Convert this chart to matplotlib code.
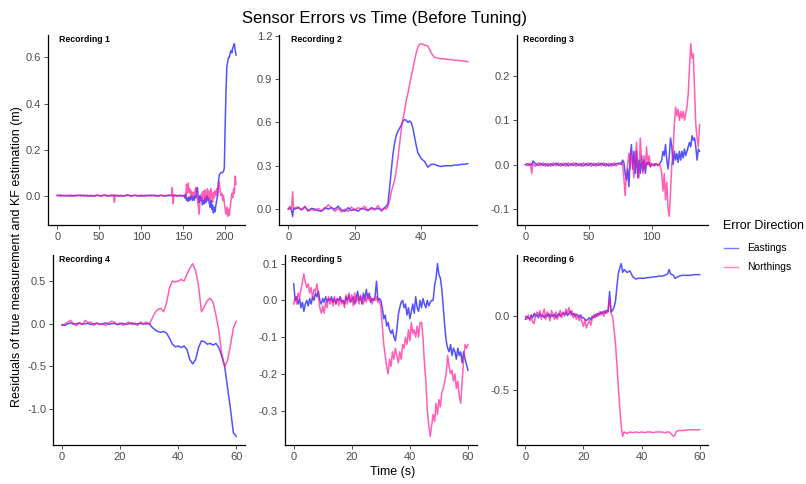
import numpy as np
import matplotlib
matplotlib.use("Agg")
import matplotlib.pyplot as plt
from matplotlib.lines import Line2D

plt.rcParams["font.family"] = ["Liberation Sans", "DejaVu Sans"]
plt.rcParams["axes.unicode_minus"] = False

# ---------------------------------------------------------------- data
# Recording 1
rec1_t = ([0, 4, 8, 12, 16, 20, 24, 28, 32, 36, 40, 44, 48, 52, 56, 60, 64,
           67, 68, 69,
           72, 76, 80, 84, 88, 92, 96, 100, 104, 108, 112, 116, 120, 124, 128, 132,
           136, 137, 138, 139, 142, 146, 150]
          + list(range(151, 214)))
rec1_east = [0.0, 0.002, -0.001, 0.001, -0.002, 0.001, 0.0, 0.002, -0.001, 0.001,
             -0.002, 0.0, 0.001, -0.001, 0.002, 0.0, -0.001,
             0.0, 0.001, 0.0,
             0.001, -0.002, 0.0, 0.002, -0.001, 0.001, 0.0, -0.002, 0.001, 0.0,
             0.002, -0.001, 0.0, 0.001, -0.002, 0.0,
             0.001, 0.0, -0.002, 0.001, 0.0, -0.001, 0.0,
             0.0, -0.01, 0.005, -0.02, -0.01, -0.025, -0.005, -0.02, -0.01, 0.0,
             -0.02, -0.005, -0.02, 0.0, -0.01, 0.03, 0.035, -0.01, -0.03, 0.0,
             -0.02, -0.01, -0.04, -0.02, -0.035, -0.01, -0.03, 0.0, -0.02, -0.01,
             -0.03, -0.05, -0.02, -0.06, -0.04, -0.075, -0.05, -0.07, -0.04, -0.02,
             0.0, 0.06, 0.09, 0.095, 0.1, 0.1, 0.1, 0.105, 0.12, 0.3,
             0.45, 0.56, 0.58, 0.6, 0.6, 0.62, 0.63, 0.62, 0.64, 0.65,
             0.66, 0.63, 0.61]
rec1_north = [0.003, -0.003, 0.002, -0.002, 0.003, -0.003, 0.002, -0.002, 0.003, -0.003,
              0.002, -0.003, 0.003, -0.002, 0.002, -0.003, 0.003,
              0.002, -0.03, 0.003,
              -0.003, 0.002, -0.002, 0.003, -0.003, 0.002, -0.002, 0.003, -0.003, 0.002,
              -0.002, 0.003, -0.003, 0.002, -0.002, 0.003,
              0.0, 0.035, -0.035, 0.005, -0.003, 0.003, -0.002,
              0.0, 0.005, -0.005, 0.05, 0.01, 0.055, 0.015, 0.03, -0.01, 0.02,
              -0.005, 0.015, 0.0, 0.02, 0.035, 0.005, -0.02, -0.045, -0.08, -0.03,
              -0.01, 0.01, -0.02, 0.02, -0.01, 0.025, -0.02, 0.01, 0.03, -0.01,
              0.02, -0.02, 0.03, 0.0, -0.03, 0.015, -0.01, 0.02, 0.0, 0.03,
              0.01, 0.04, 0.06, 0.02, 0.0, 0.01, -0.02, 0.0, -0.03, -0.06,
              -0.08, -0.05, -0.09, -0.06, -0.085, -0.05, -0.02, 0.01, -0.01, 0.03,
              0.01, 0.085, 0.05]

# Recording 2
rec2_t = ([0, 0.5, 1, 1.3, 1.6] + list(range(2, 30))
          + list(np.arange(29.5, 39.6, 0.5)) + list(range(40, 55)))
rec2_east = [0.0, 0.01, -0.01, -0.05, 0.005,
             0.0, 0.01, -0.005, 0.015, -0.01, 0.005, 0.0, -0.01, -0.015, 0.01,
             0.0, 0.01, 0.0, 0.02, -0.005, -0.015, 0.01, -0.01, 0.0, -0.015,
             0.005, 0.0, -0.01, 0.01, 0.0, 0.005, -0.005, 0.01,
             0.02, 0.04, 0.15, 0.27, 0.38, 0.46, 0.51, 0.54, 0.56, 0.58,
             0.61, 0.62, 0.615, 0.6, 0.61, 0.6, 0.56, 0.5, 0.44, 0.39, 0.37,
             0.35, 0.33, 0.29, 0.31, 0.31, 0.3, 0.295, 0.3, 0.3, 0.3,
             0.305, 0.305, 0.31, 0.31, 0.315]
rec2_north = [0.0, 0.02, 0.0, 0.12, 0.0,
              0.01, 0.015, -0.005, 0.02, -0.015, 0.0, -0.01, 0.005, -0.01, 0.0,
              0.03, 0.01, -0.015, 0.005, -0.02, 0.0, -0.015, 0.015, -0.01, 0.01,
              0.0, 0.02, -0.01, 0.005, -0.005, 0.025, -0.015, 0.005,
              0.0, 0.02, 0.06, 0.12, 0.16, 0.2, 0.27, 0.35, 0.45, 0.55,
              0.62, 0.68, 0.75, 0.8, 0.86, 0.92, 0.97, 1.03, 1.08, 1.12, 1.14,
              1.145, 1.135, 1.13, 1.08, 1.05, 1.045, 1.04, 1.04, 1.035, 1.035,
              1.03, 1.03, 1.025, 1.025, 1.02]

# Recording 3
rec3_t = [0, 2, 4, 5, 6] + list(range(8, 75, 2)) + list(range(76, 139))
rec3_east = [0.0, 0.002, -0.002, 0.0, 0.008,
             0.002, -0.002, 0.003, -0.002, 0.002, -0.003, 0.002, -0.002, 0.003, -0.002,
             0.002, -0.002, 0.003, -0.003, 0.002, -0.002, 0.003, -0.002, 0.002, -0.003,
             0.002, -0.002, 0.003, -0.002, 0.002, -0.002, 0.003, -0.002, 0.002, -0.003,
             0.002, -0.002, 0.002, 0.003,
             0.0, 0.01, 0.005, -0.02, -0.035, -0.01, -0.05, 0.02, 0.045, -0.01,
             0.03, -0.02, 0.03, -0.03, 0.01, -0.02, 0.02, -0.015, 0.01, -0.02,
             0.005, 0.0, 0.005, -0.005, 0.0, 0.0, -0.003, 0.002, 0.0, -0.002,
             0.0, 0.005, 0.01, 0.03, 0.02, 0.045, 0.01, -0.01, 0.02, 0.06,
             0.04, 0.0, 0.03, 0.01, 0.025, 0.005, 0.03, 0.01, 0.03, 0.015,
             0.035, 0.02, 0.03, 0.04, 0.05, 0.04, 0.065, 0.055, 0.06, 0.04,
             0.01, 0.035, 0.03]
rec3_north = [0.0, -0.003, 0.003, -0.02, 0.002,
              -0.004, 0.004, -0.003, 0.004, -0.004, 0.003, -0.004, 0.004, -0.003, 0.004,
              -0.004, 0.003, -0.004, 0.004, -0.003, 0.004, -0.004, 0.003, -0.004, 0.004,
              -0.003, 0.004, -0.004, 0.003, -0.004, 0.004, -0.003, 0.004, -0.004, 0.003,
              -0.004, 0.004, -0.003, 0.002,
              0.005, 0.0, -0.03, -0.07, -0.02, 0.0, 0.025, -0.01, 0.03, 0.0,
              -0.03, 0.01, 0.05, 0.0, -0.03, 0.06, 0.01, -0.02, 0.02, -0.01,
              0.04, 0.0, 0.02, -0.005, 0.003, -0.002, 0.002, -0.002, 0.002, -0.002,
              0.001, -0.005, -0.02, -0.06, -0.02, -0.08, -0.04, -0.1, -0.117, -0.06,
              0.0, 0.03, 0.09, 0.13, 0.11, 0.125, 0.1, 0.12, 0.105, 0.12,
              0.1, 0.115, 0.13, 0.16, 0.22, 0.273, 0.24, 0.25, 0.17, 0.09,
              0.06, 0.04, 0.09]

# Recording 4
rec4_t = list(range(0, 61))
rec4_east = [-0.01, -0.02, 0.0, 0.01, -0.005, 0.0, 0.01, -0.005, 0.0, 0.005,
             -0.01, 0.0, 0.005, -0.005, 0.0, 0.01, -0.005, 0.0, 0.005, -0.01,
             0.0, 0.005, -0.005, 0.0, 0.01, -0.005, 0.0, 0.005, -0.005, 0.0,
             0.005, -0.04, -0.07, -0.09, -0.1, -0.09, -0.11, -0.17, -0.24, -0.27,
             -0.26, -0.28, -0.26, -0.3, -0.42, -0.47, -0.42, -0.28, -0.2, -0.21,
             -0.24, -0.23, -0.25, -0.23, -0.28, -0.38, -0.5, -0.75, -1.0, -1.28,
             -1.32]
rec4_north = [-0.02, 0.0, 0.02, 0.04, 0.0, -0.02, 0.01, -0.01, 0.04, 0.01,
              0.02, -0.02, 0.01, -0.01, 0.0, -0.02, 0.01, 0.03, 0.02, -0.01,
              0.01, -0.02, 0.0, 0.02, -0.01, 0.01, -0.02, 0.02, 0.0, 0.02,
              -0.01, 0.06, 0.13, 0.17, 0.18, 0.14, 0.25, 0.42, 0.5, 0.49,
              0.5, 0.52, 0.5, 0.58, 0.65, 0.705, 0.62, 0.45, 0.14, 0.2,
              0.27, 0.3, 0.25, 0.1, -0.08, -0.35, -0.5, -0.43, -0.25, -0.05,
              0.03]

# Recording 5 (sampled every 0.5 s)
rec5_t = np.arange(0, 60.01, 0.5)
rec5_east = [0.045, 0.0, 0.01, -0.01, 0.005, -0.02, -0.005, -0.03, -0.01, 0.0,
             -0.015, 0.005, -0.01, 0.01, 0.0, 0.02, 0.01, 0.025, 0.0, -0.01,
             0.005, -0.005, 0.01, -0.005, 0.005, 0.0, 0.01, -0.005, 0.005, -0.01,
             0.005, 0.0, 0.01, -0.005, 0.0, -0.01, 0.01, 0.0, 0.015, -0.005,
             0.0, 0.01, -0.01, 0.005, 0.025, 0.0, 0.01, -0.01, 0.02, 0.0,
             0.03, 0.005, 0.02, -0.005, 0.005, 0.0, 0.01, 0.052, 0.0, 0.005,
             0.0, -0.02, -0.05, -0.04, -0.07, -0.06, -0.08, -0.09, -0.08, -0.1,
             -0.11, -0.08, -0.04, -0.02, -0.005, 0.0, -0.02, -0.01, -0.04, -0.02,
             -0.05, -0.03, -0.01, -0.035, 0.01, -0.02, -0.03, 0.0, -0.02, 0.005,
             -0.01, -0.02, 0.0, -0.015, -0.005, 0.0, 0.0, 0.04, 0.06, 0.1,
             0.07, 0.06, 0.03, -0.02, -0.07, -0.11, -0.13, -0.14, -0.12, -0.15,
             -0.13, -0.14, -0.16, -0.13, -0.15, -0.14, -0.17, -0.14, -0.16, -0.175,
             -0.19]
rec5_north = [-0.01, 0.01, -0.01, 0.02, 0.005, 0.03, 0.05, 0.072, 0.05, 0.035,
              0.045, 0.02, 0.035, 0.005, 0.03, 0.025, 0.045, 0.01, -0.02, -0.035,
              -0.015, -0.035, -0.005, -0.02, 0.01, -0.01, 0.005, -0.015, 0.01, -0.01,
              0.005, -0.015, 0.01, -0.01, 0.0, -0.02, 0.015, -0.01, 0.02, -0.005,
              0.015, -0.015, 0.02, -0.005, 0.01, -0.01, 0.015, 0.0, -0.01, 0.01,
              -0.005, 0.015, 0.0, 0.01, -0.01, 0.005, 0.0, 0.01, -0.005, 0.0,
              -0.02, -0.07, -0.12, -0.15, -0.18, -0.2, -0.16, -0.18, -0.14, -0.16,
              -0.13, -0.15, -0.17, -0.14, -0.16, -0.12, -0.13, -0.1, -0.12, -0.08,
              -0.11, -0.06, -0.09, -0.08, -0.1, -0.07, -0.1, -0.06, -0.06, -0.1,
              -0.17, -0.22, -0.3, -0.34, -0.37, -0.34, -0.31, -0.33, -0.28, -0.31,
              -0.27, -0.29, -0.25, -0.24, -0.22, -0.2, -0.15, -0.18, -0.2, -0.19,
              -0.22, -0.2, -0.24, -0.22, -0.26, -0.28, -0.22, -0.16, -0.12, -0.13,
              -0.12]

# Recording 6
rec6_t = (list(np.arange(0, 30.01, 0.5)) + list(np.arange(30.5, 34.01, 0.5))
          + list(range(35, 50)) + [49.5, 50, 51, 51.5] + list(range(52, 61)))
rec6_east = [-0.02, 0.0, -0.01, -0.02, 0.01, -0.01, 0.02, 0.0, 0.01, -0.01,
             0.02, 0.0, 0.01, -0.01, 0.01, 0.0, 0.02, -0.005, 0.01, 0.0,
             0.015, -0.01, 0.005, 0.02, 0.0, 0.015, 0.025, 0.01, 0.03, 0.005,
             0.02, 0.035, 0.01, 0.02, 0.0, 0.015, 0.005, -0.005, 0.01, -0.01,
             -0.01, -0.02, -0.03, -0.02, -0.01, -0.025, 0.0, -0.01, 0.01, 0.0,
             0.02, 0.01, 0.03, 0.02, 0.035, 0.02, 0.04, 0.03, 0.17, 0.03,
             0.04,
             0.06, 0.1, 0.2, 0.29, 0.33, 0.36, 0.3, 0.32,
             0.3, 0.31, 0.27, 0.255, 0.26, 0.26, 0.26, 0.265, 0.265, 0.27,
             0.27, 0.275, 0.275, 0.28, 0.29,
             0.32, 0.29, 0.28, 0.26,
             0.265, 0.275, 0.28, 0.28, 0.28, 0.28, 0.285, 0.285, 0.285]
rec6_north = [0.0, -0.02, 0.01, -0.03, 0.0, -0.04, -0.05, 0.01, 0.03, 0.0,
              0.04, -0.02, 0.02, 0.05, -0.02, 0.03, 0.0, -0.03, 0.04, 0.01,
              -0.02, 0.03, -0.02, 0.01, 0.04, -0.01, 0.03, 0.0, 0.05, 0.02,
              0.06, 0.01, 0.04, -0.01, 0.02, -0.02, 0.01, -0.03, 0.0, -0.04,
              -0.07, -0.02, -0.08, -0.05, -0.03, -0.06, -0.02, 0.01, -0.01, 0.02,
              0.0, 0.03, 0.01, 0.03, 0.0, 0.04, 0.02, 0.05, 0.12, 0.02,
              0.0,
              -0.08, -0.18, -0.32, -0.48, -0.62, -0.75, -0.82, -0.79,
              -0.8, -0.79, -0.795, -0.79, -0.795, -0.79, -0.795, -0.79, -0.79, -0.795,
              -0.79, -0.79, -0.79, -0.795, -0.79,
              -0.79, -0.8, -0.82, -0.81,
              -0.785, -0.78, -0.78, -0.78, -0.775, -0.775, -0.775, -0.775, -0.775]

recording_names = ["Recording 1", "Recording 2", "Recording 3",
                   "Recording 4", "Recording 5", "Recording 6"]
x_ticks = [[0, 50, 100, 150, 200], [0, 20, 40], [0, 50, 100],
           [0, 20, 40, 60], [0, 20, 40, 60], [0, 20, 40, 60]]
y_ticks = [[0.0, 0.2, 0.4, 0.6], [0.0, 0.3, 0.6, 0.9, 1.2], [-0.1, 0.0, 0.1, 0.2],
           [-1.0, -0.5, 0.0, 0.5], [-0.3, -0.2, -0.1, 0.0, 0.1], [-0.5, 0.0]]
series_labels = ["Eastings", "Northings"]

# ---------------------------------------------------------------- styling
EAST_COLOR = "#0000FF"
NORTH_COLOR = "#FF1493"
LINE_ALPHA = 0.68
W, H = 806, 484

fig = plt.figure(figsize=(W / 100, H / 100), dpi=100)


def px_rect(left, top, right, bottom):
    return [left / W, 1 - bottom / H, (right - left) / W, (bottom - top) / H]


# panel boxes in pixels (left, top, right, bottom)
boxes = [(48.3, 35, 245, 225), (279.3, 35, 476.7, 225), (516.7, 35, 708.3, 225),
         (53.3, 255, 245, 445), (285, 255, 476.7, 445), (516.7, 255, 708.3, 445)]
strip_x = [59, 290.7, 522.7, 59, 290.7, 522.7]

data = [(rec1_t, rec1_east, rec1_north), (rec2_t, rec2_east, rec2_north),
        (rec3_t, rec3_east, rec3_north), (rec4_t, rec4_east, rec4_north),
        (rec5_t, rec5_east, rec5_north), (rec6_t, rec6_east, rec6_north)]

for i, (t, east, north) in enumerate(data):
    box = boxes[i]
    ax = fig.add_axes(px_rect(*box))
    ax.plot(t, east, color=EAST_COLOR, alpha=LINE_ALPHA, lw=1.1)
    ax.plot(t, north, color=NORTH_COLOR, alpha=LINE_ALPHA, lw=1.1)
    ax.margins(x=0.05, y=0.05)
    ax.set_xticks(x_ticks[i])
    ax.set_xticklabels([f"{v:d}" for v in x_ticks[i]])
    ax.set_yticks(y_ticks[i])
    ax.set_yticklabels([f"{v:.1f}" for v in y_ticks[i]])
    for side in ("top", "right"):
        ax.spines[side].set_visible(False)
    for side in ("left", "bottom"):
        ax.spines[side].set_linewidth(0.9)
        ax.spines[side].set_color("black")
    ax.tick_params(length=3, width=0.6, color="#333333", labelsize=8,
                   labelcolor="#4D4D4D", pad=2)
    top = box[1]
    fig.text(strip_x[i] / W, 1 - (top + 4.5) / H, recording_names[i],
             fontsize=6.3, fontweight="bold", ha="left", va="center")

# titles
fig.text(385 / W, 1 - 18 / H, "Sensor Errors vs Time (Before Tuning)",
         fontsize=12, ha="center", va="center")
fig.text(393 / W, 1 - 472 / H, "Time (s)", fontsize=9, ha="center", va="center")
fig.text(17 / W, 1 - 257 / H, "Residuals of true measurement and KF estimation (m)",
         fontsize=9, rotation=90, ha="center", va="center")

# legend
fig.text(722.7 / W, 1 - 226 / H, "Error Direction", fontsize=9,
         ha="left", va="center")
for label, color, y in zip(series_labels, [EAST_COLOR, NORTH_COLOR], [248, 267]):
    fig.add_artist(Line2D([724 / W, 738 / W], [1 - y / H, 1 - y / H],
                          transform=fig.transFigure, color=color,
                          alpha=LINE_ALPHA * 0.8, lw=1.0))
    fig.text(746.7 / W, 1 - y / H, label, fontsize=7.4, ha="left", va="center")

fig.savefig("out.png", dpi=100)
